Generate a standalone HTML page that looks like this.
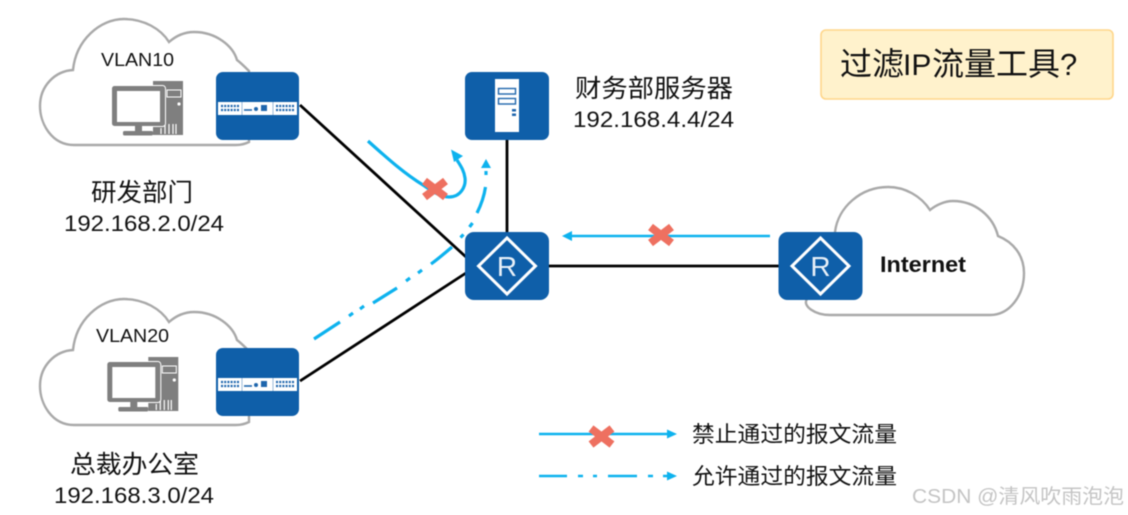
<!DOCTYPE html>
<html><head><meta charset="utf-8">
<style>
html,body{margin:0;padding:0;background:#fff;width:1128px;height:515px;overflow:hidden}
svg{display:block;filter:blur(0.45px)}
text{font-family:"Liberation Sans","Noto Sans CJK SC",sans-serif;fill:#111}
</style></head><body>
<svg width="1128" height="515" viewBox="0 0 1128 515" xmlns="http://www.w3.org/2000/svg">
<defs>
<g id="cloud"><path d="M74 145 C52 145 40 124 40 106 C40 86 55 71 73 70 C76 40 100 19 124 19 C144 19 161 29 169 42 C177 35 186 32 194 32 C216 32 233 46 237 60 C241 63 245 67 249 71 L249 142 C245 144 240 145 236 145 Z" fill="#fff" stroke="#a9a9a9" stroke-width="2.400"/></g>
<g id="pc">
<rect x="153" y="81" width="30" height="54" fill="#7f7f7f"/>
<rect x="111.500" y="85.500" width="54" height="41" rx="3" fill="#7f7f7f" stroke="#fff" stroke-width="1"/>
<rect x="117" y="91" width="43" height="31" fill="#fff"/>
<rect x="167" y="90" width="14" height="7" fill="none" stroke="#fff" stroke-width="1"/>
<circle cx="179" cy="104" r="1.600" fill="#fff"/>
<path d="M161 134V128M165 134V125M169 134V124M173 134V124M176 134V124" stroke="#fff" stroke-width="1.200"/>
<rect x="135" y="126" width="7" height="6" fill="#7f7f7f"/>
<rect x="123" y="131" width="30" height="4.500" rx="1.500" fill="#7f7f7f"/>
</g>
<g id="sw">
<rect x="216" y="72" width="83" height="68" rx="7" fill="#0f5fa9"/>
<rect x="218" y="102" width="79" height="13" fill="#fff"/>
<path d="M221 106H240M221 110H240M276 106H295M276 110H295" stroke="#1f66ad" stroke-width="2.200" stroke-dasharray="2 1.200"/>
<path d="M242 102V115M273 102V115" stroke="#9dbbd9" stroke-width="1"/>
<path d="M244 110H252" stroke="#1f66ad" stroke-width="1.600"/>
<circle cx="256" cy="109" r="2" fill="#1f66ad"/>
<rect x="261" y="105" width="6" height="6" fill="#1f66ad"/>
</g>
<g id="rt">
<rect x="0" y="0" width="84" height="68" rx="9" fill="#0f5fa9"/>
<path d="M42 6 L70.500 34 L42 62 L13.500 34 Z" fill="none" stroke="#fff" stroke-width="3"/>
</g>
<g id="xm"><path d="M-10.500 -8 L10.500 8 M10.500 -8 L-10.500 8" stroke="#ee7060" stroke-width="8" fill="none"/></g>
</defs>

<use href="#cloud"/>
<use href="#cloud" y="280"/>
<path d="M807 299 C802 306 815 315 830 315 L990 315 C1010 315 1024 295 1024 273 C1024 255 1013 242 998 236 C993 216 975 201 953 201 C945 201 936 205 930 210 C921 196 905 187 888 187 C861 187 838 207 835 232" fill="#fff" stroke="#a9a9a9" stroke-width="2.400"/>

<use href="#pc"/>
<use href="#pc" x="-4.700" y="276"/>

<g stroke="#000" stroke-width="2.800" fill="none">
<path d="M300 105 L466 257"/>
<path d="M300 381 L466 273"/>
<path d="M507 140 V232"/>
<path d="M549 266 H779"/>
</g>

<use href="#sw"/>
<use href="#sw" y="276"/>

<rect x="465" y="72" width="84" height="68" rx="7" fill="#0f5fa9"/>
<rect x="495" y="79" width="24" height="53" fill="#fff"/>
<rect x="498.500" y="88.500" width="17" height="5.500" fill="none" stroke="#1f66ad" stroke-width="1.400"/>
<rect x="498.500" y="98.500" width="17" height="5.500" fill="none" stroke="#1f66ad" stroke-width="1.400"/>
<rect x="512" y="109" width="4" height="2.500" fill="#1f66ad"/>
<rect x="512" y="113.500" width="4" height="2.500" fill="#1f66ad"/>

<use href="#rt" x="465" y="232"/>
<text x="507" y="276" font-size="28" text-anchor="middle" style="fill:#e8f0f8">R</text>
<use href="#rt" x="778.500" y="232"/>
<text x="820.500" y="276" font-size="28" text-anchor="middle" style="fill:#e8f0f8">R</text>

<!-- flows -->
<path d="M368 141 C388 159 405 174 423 185 C432 191 440 197 449 197 C461 197 466 186 465 178 C464 170 460 165 457 160" fill="none" stroke="#0db2ee" stroke-width="3.200"/>
<path d="M451 149.500 L463 156 L454 162 Z" fill="#0db2ee"/>
<use href="#xm" x="435" y="189"/>

<g fill="none" stroke="#0db2ee" stroke-width="3.200">
<path d="M314 339 L340 322"/>
<path d="M349 316 L353 313"/>
<path d="M360 309 L364 306"/>
<path d="M373 303 L397 288"/>
<path d="M406 281 L410 278"/>
<path d="M418 273 L422 270"/>
<path d="M431 264 C438 259 445 253 452 247"/>
<path d="M460.500 237.500 L463.500 234.500"/>
<path d="M469.500 227 L472.500 223"/>
<path d="M477 213 C481 205 484 197 485.500 187"/>
<path d="M486 171 L486 175"/>
</g>
<path d="M486 159 L491 168 L481 168 Z" fill="#0db2ee"/>

<path d="M770 236 H570" stroke="#0db2ee" stroke-width="2.400"/>
<path d="M562 236 L572 231 L572 241 Z" fill="#0db2ee"/>
<use href="#xm" x="661" y="235"/>

<!-- legend -->
<path d="M539 434 H668" stroke="#0db2ee" stroke-width="2.600"/>
<path d="M677 434 L667 429.500 L667 438.500 Z" fill="#0db2ee"/>
<use href="#xm" x="601.500" y="436.500"/>
<path d="M539 476 H567 M578 476 H583 M593 476 H597 M608 476 H637 M648 476 H653 M663 476 H668" stroke="#0db2ee" stroke-width="2.600"/>
<path d="M677 476 L667 471.500 L667 480.500 Z" fill="#0db2ee"/>
<text x="692" y="442" font-size="22" textLength="205" lengthAdjust="spacingAndGlyphs">禁止通过的报文流量</text>
<text x="692" y="484" font-size="22" textLength="205" lengthAdjust="spacingAndGlyphs">允许通过的报文流量</text>

<!-- labels -->
<text x="101" y="66" font-size="18.500" textLength="73" lengthAdjust="spacingAndGlyphs">VLAN10</text>
<text x="96" y="342" font-size="18.500" textLength="73" lengthAdjust="spacingAndGlyphs">VLAN20</text>
<text x="91" y="201" font-size="25" textLength="102" lengthAdjust="spacingAndGlyphs">研发部门</text>
<text x="64" y="231" font-size="22" textLength="160" lengthAdjust="spacingAndGlyphs">192.168.2.0/24</text>
<text x="575" y="97" font-size="25" textLength="158" lengthAdjust="spacingAndGlyphs">财务部服务器</text>
<text x="573" y="127" font-size="22" textLength="161" lengthAdjust="spacingAndGlyphs">192.168.4.4/24</text>
<text x="70" y="473" font-size="25" textLength="129" lengthAdjust="spacingAndGlyphs">总裁办公室</text>
<text x="54" y="503" font-size="22" textLength="160" lengthAdjust="spacingAndGlyphs">192.168.3.0/24</text>
<text x="880" y="272" font-size="22" font-weight="bold" textLength="86" lengthAdjust="spacingAndGlyphs">Internet</text>

<rect x="821" y="30" width="292" height="69" rx="5" fill="#fff2cc" stroke="#ffd68a" stroke-width="1.600"/>
<text y="75" font-size="32"><tspan x="840">过滤</tspan><tspan x="903" font-size="30">IP</tspan><tspan x="932">流量工具</tspan><tspan x="1060" font-size="31">?</tspan></text>

<text x="912" y="503" font-size="20" textLength="212" lengthAdjust="spacingAndGlyphs" style="fill:#c4c4c4">CSDN @清风吹雨泡泡</text>
</svg>
</body></html>
